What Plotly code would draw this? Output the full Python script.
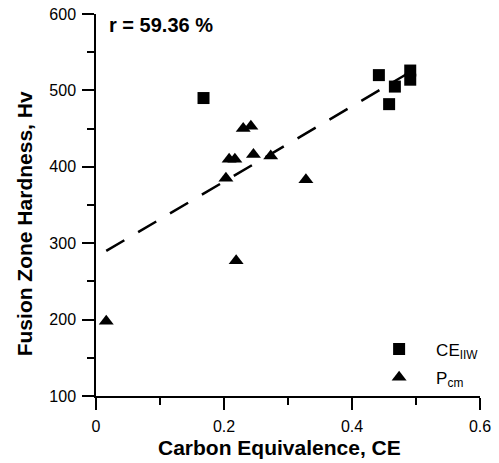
import plotly.graph_objects as go

# CE_IIW data (squares)
ce_iiw_x = [0.168, 0.442, 0.458, 0.467, 0.491, 0.491]
ce_iiw_y = [490, 520, 482, 505, 526, 514]

# Pcm data (triangles)
pcm_x = [0.016, 0.203, 0.208, 0.217, 0.219, 0.230, 0.242, 0.246, 0.273, 0.328]
pcm_y = [198, 385, 410, 410, 277, 450, 453, 416, 414, 383]

# regression line endpoints (x range) and coefficients
fit_x = [0.016, 0.491]
fit_intercept = 282.0
fit_slope = 493.0
fit_y = [fit_intercept + fit_slope * v for v in fit_x]

x_ticks = [0, 0.2, 0.4, 0.6]
x_ticktext = ["0", "0.2", "0.4", "0.6"]
x_minor = [0.1, 0.3, 0.5]
y_ticks = [100, 200, 300, 400, 500, 600]
y_minor = [150, 250, 350, 450, 550]

font_family = "Liberation Sans, Arial, sans-serif"

fig = go.Figure()
fig.add_trace(go.Scatter(x=fit_x, y=fit_y, mode="lines",
                         line=dict(color="black", width=2.5, dash="21px,16px"),
                         showlegend=False, hoverinfo="skip"))
fig.add_trace(go.Scatter(x=ce_iiw_x, y=ce_iiw_y, mode="markers", name="CE<sub>IIW</sub>",
                         legendgroup="a",
                         marker=dict(symbol="square", size=12, color="black")))
fig.add_trace(go.Scatter(x=pcm_x, y=pcm_y, mode="markers", name="P<sub>cm</sub>",
                         legendgroup="b",
                         marker=dict(symbol="triangle-up", size=13, color="black")))

axis_common = dict(
    showgrid=False, zeroline=False, showline=True, linecolor="black", linewidth=1.5,
    ticks="outside", ticklen=12, tickwidth=1.5, tickcolor="black",
    tickfont=dict(family=font_family, size=16, color="black"),
    mirror=False, automargin=False, ticklabelstandoff=3,
)

fig.update_xaxes(range=[0, 0.6], tickvals=x_ticks, ticktext=x_ticktext,
                 minor=dict(tickvals=x_minor, ticklen=7, tickwidth=1.5, tickcolor="black", ticks="outside"),
                 **axis_common)
fig.update_yaxes(range=[100, 600], tickvals=y_ticks,
                 minor=dict(tickvals=y_minor, ticklen=7, tickwidth=1.5, tickcolor="black", ticks="outside"),
                 **axis_common)

fig.add_annotation(text="<b>Carbon Equivalence, CE</b>", xref="paper", yref="paper",
                   x=0.479, y=-0.134, xanchor="center", yanchor="middle", showarrow=False,
                   font=dict(family=font_family, size=21, color="black"))
fig.add_annotation(text="<b>Fusion Zone Hardness, Hv</b>", xref="paper", yref="paper",
                   x=-0.187, y=0.45, xanchor="center", yanchor="middle", showarrow=False,
                   textangle=-90,
                   font=dict(family=font_family, size=21, color="black"))
fig.add_annotation(text="<b>r = 59.36 %</b>", xref="paper", yref="paper", x=0.028, y=0.97,
                   xanchor="left", yanchor="middle", showarrow=False,
                   font=dict(family=font_family, size=20, color="black"))

fig.update_layout(
    width=499, height=463,
    margin=dict(l=96, r=19, t=14, b=67),
    plot_bgcolor="white", paper_bgcolor="white",
    legend=dict(x=0.693, y=0.085, xanchor="left", yanchor="middle", bgcolor="rgba(0,0,0,0)",
                font=dict(family=font_family, size=17, color="black"), itemwidth=64,
                tracegroupgap=3),
)

fig.write_html("out.html")
